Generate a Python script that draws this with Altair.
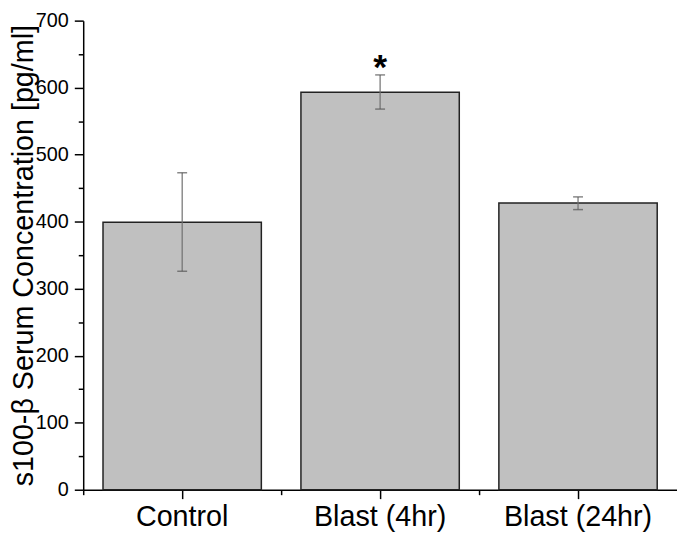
import altair as alt
import pandas as pd

groups = ["Control", "Blast (4hr)", "Blast (24hr)"]
means = [399, 593, 428]
err_lo = [326, 568, 418]
err_hi = [473, 619, 437]
sig = ["", "*", ""]

major_y = [0, 100, 200, 300, 400, 500, 600, 700]
minor_y = [50, 150, 250, 350, 450, 550, 650]

df = pd.DataFrame({"group": groups, "mean": means, "lo": err_lo, "hi": err_hi, "sig": sig})

FONT = "Liberation Sans"
yscale = alt.Scale(domain=[0, 700], nice=False)
xscale = alt.Scale(paddingInner=0.2, paddingOuter=0.1)

x_major = alt.X("group:N", sort=groups, scale=xscale, title=None,
                axis=alt.Axis(orient="bottom", labelAngle=0, labelFont=FONT, labelFontSize=29,
                              labelColor="black", labelPadding=4, tickSize=9, tickWidth=1.5,
                              tickColor="black", domainColor="black", domainWidth=1.5))
x_minor = alt.X("group:N", sort=groups, scale=xscale, title=None,
                axis=alt.Axis(orient="bottom", labels=False, tickOffset=-100, tickSize=5,
                              tickWidth=1.5, tickColor="black", domain=False))

y_major = alt.Y("mean:Q", scale=yscale,
                title="s100-β Serum Concentration [pg/ml]",
                axis=alt.Axis(orient="left", values=major_y, labelFont=FONT, labelFontSize=20,
                              labelColor="black", labelPadding=6, tickSize=9, tickWidth=1.5,
                              tickColor="black", domainColor="black", domainWidth=1.5,
                              grid=False, titleFont=FONT, titleFontSize=29, titleFontWeight="normal",
                              titleColor="black", titlePadding=-3))
y_minor = alt.Y("mean:Q", scale=yscale, title=None,
                axis=alt.Axis(orient="left", values=minor_y, labels=False, tickSize=5,
                              tickWidth=1.5, tickColor="black", domain=False, grid=False))

x_plain = alt.X("group:N", sort=groups, scale=xscale, axis=None)

base = alt.Chart(df)

bars = base.mark_bar(fill="#c0c0c0", stroke="#222222", strokeWidth=1.5).encode(x=x_major, y=y_major)

minor = base.mark_point(opacity=0).encode(x=x_minor, y=y_minor)

stems = base.mark_rule(color="#6f6f6f", strokeWidth=1.2).encode(
    x=x_plain, y=alt.Y("lo:Q", scale=yscale, axis=None), y2="hi:Q")
cap_lo = base.mark_tick(color="#555555", size=10, thickness=1.5).encode(
    x=x_plain, y=alt.Y("lo:Q", scale=yscale, axis=None))
cap_hi = base.mark_tick(color="#555555", size=10, thickness=1.5).encode(
    x=x_plain, y=alt.Y("hi:Q", scale=yscale, axis=None))

stars = base.mark_text(font=FONT, fontSize=36, fontWeight="bold", color="black",
                       baseline="alphabetic", dy=4).encode(
    x=x_plain, y=alt.Y("hi:Q", scale=yscale, axis=None), text="sig:N")

chart = alt.layer(bars, minor, stems, cap_lo, cap_hi, stars).resolve_axis(
    x="independent", y="independent"
).properties(
    width=600, height=474,
    autosize=alt.AutoSizeParams(type="none"),
    padding={"left": 76, "top": 10, "right": 0, "bottom": 45},
).configure_view(stroke=None).configure_axis(labelFont=FONT, titleFont=FONT)

chart.save("out.html", embed_options={"renderer": "svg", "actions": False})
